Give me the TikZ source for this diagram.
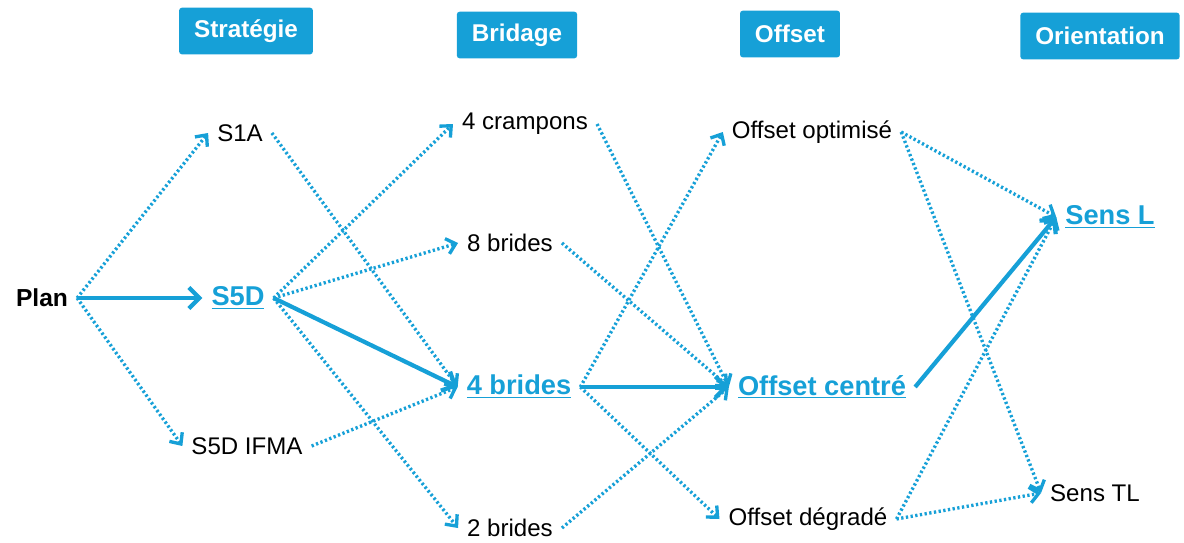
\documentclass[tikz,border=0pt]{standalone}
\usepackage{fontspec}
\setmainfont{Liberation Sans}
\usetikzlibrary{arrows.meta, positioning}

\definecolor{bleu}{RGB}{22,160,215}

\begin{document}
\begin{tikzpicture}[
    x=0.02cm, y=-0.02cm,
    every node/.style={inner sep=5pt, font=\fontsize{13.7}{16}\selectfont},
    header/.style={fill=bleu, text=white, minimum height=26.5pt, inner xsep=8.5pt,
        rounded corners=1.5pt, font=\fontsize{13.8}{16}\selectfont\bfseries},
    choice/.style={text=black},
    chosen/.style={text=bleu, font=\fontsize{15.5}{18}\selectfont\bfseries},
    option/.style={-{Straight Barb[length=5pt, width=9pt]}, line width=1.9pt,
        dash pattern=on 1.3pt off 1.4pt, color=bleu},
    path_sel/.style={-{Straight Barb[length=6pt, width=12pt]}, line width=2.4pt, color=bleu}
]
\useasboundingbox (0,0) rectangle (1184,542);

% Titres
\node[header] (hstrat) at (246,31) {Stratégie};
\node[header] (hbrid) at (517,35) {Bridage};
\node[header] (hoff) at (790,34) {Offset};
\node[header] (horient) at (1100,36) {Orientation};

% Noeuds
\node[choice, font=\fontsize{14}{16}\selectfont\bfseries] (plan) at (42,298) {Plan};
\node[choice] (s1a) at (240,133) {S1A};
\node[chosen] (s5d) at (238,298) {\underline{S5D}};
\node[choice] (ifma) at (247,446) {S5D IFMA};
\node[choice] (cramp) at (525,124) {4 crampons};
\node[choice] (b8) at (510,243) {8 brides};
\node[chosen] (b4) at (519,387) {\underline{4 brides}};
\node[choice] (b2) at (510,528) {2 brides};
\node[choice] (opt) at (812,132) {Offset optimisé};
\node[chosen] (cent) at (822,387) {\underline{Offset centré}};
\node[choice] (degr) at (808,519) {Offset dégradé};
\node[chosen] (sensl) at (1110,217) {\underline{Sens L}};
\node[choice] (senstl) at (1095,493) {Sens TL};

% Options possibles
\draw[option] (plan.east) -- (s1a.west);
\draw[option] (plan.east) -- (ifma.west);
\draw[option] (s1a.east) -- (b4.west);
\draw[option] (s5d.east) -- (cramp.west);
\draw[option] (s5d.east) -- (b8.west);
\draw[option] (s5d.east) -- (b2.west);
\draw[option] (ifma.east) -- (b4.west);
\draw[option] (cramp.east) -- (cent.west);
\draw[option] (b8.east) -- (cent.west);
\draw[option] (b4.east) -- (opt.west);
\draw[option] (b4.east) -- (degr.west);
\draw[option] (b2.east) -- (cent.west);
\draw[option] (opt.east) -- (sensl.west);
\draw[option] (opt.east) -- (senstl.west);
\draw[option] (degr.east) -- (sensl.west);
\draw[option] (degr.east) -- (senstl.west);

% Chemin retenu
\draw[path_sel] (plan.east) -- (s5d.west);
\draw[path_sel] (s5d.east) -- (b4.west);
\draw[path_sel] (b4.east) -- (cent.west);
\draw[path_sel] (cent.east) -- (sensl.west);

\end{tikzpicture}
\end{document}
